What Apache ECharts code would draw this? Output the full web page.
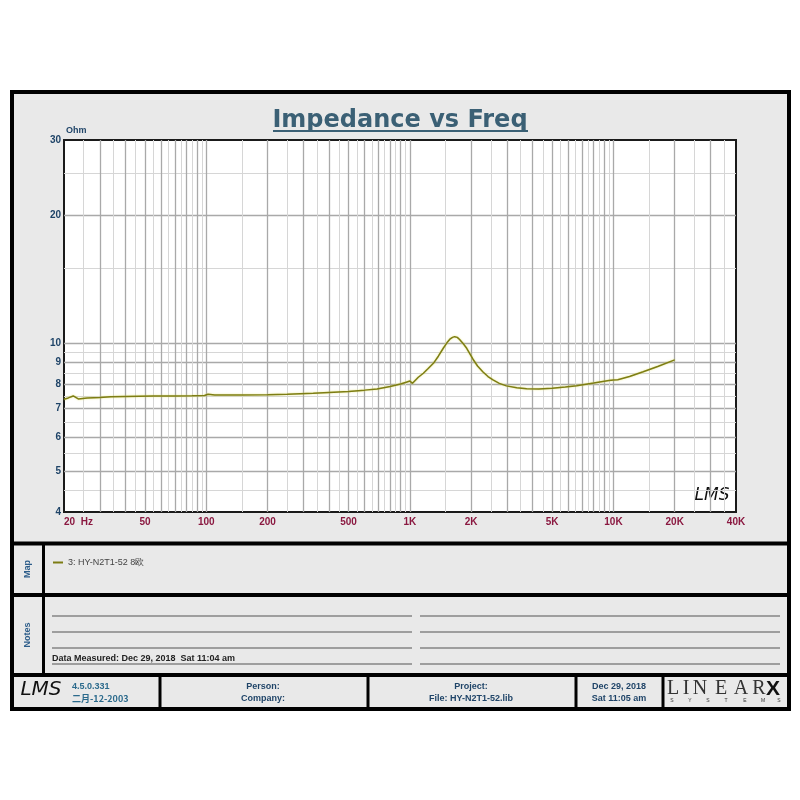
<!DOCTYPE html>
<html>
<head>
<meta charset="utf-8">
<title>Impedance vs Freq</title>
<script src="https://cdn.jsdelivr.net/npm/echarts@6/dist/echarts.min.js"></script>
<style>
  html, body { margin: 0; padding: 0; background: #fff; }
  #main { width: 800px; height: 800px; }
</style>
</head>
<body>
<div id="main"></div>
<script>
// measured curve (Hz / Ohm)
const freqHz = [20, 21, 22.2, 23.5, 26, 30, 34, 40, 55, 70, 85, 98, 102, 110, 150, 200, 250, 335, 400, 500,
  600, 690, 800, 900, 960, 1000, 1030, 1100, 1165, 1230, 1305, 1380, 1459, 1520, 1572, 1620, 1660, 1710, 1755,
  1830, 1902, 2042, 2150, 2281, 2420, 2560, 2750, 2980, 3350, 3750, 4300, 5000, 5800, 6600, 8000, 9500,
  10000, 10500, 12000, 14000, 16500, 20000];
const impedanceOhm = [7.37, 7.42, 7.5, 7.38, 7.42, 7.44, 7.47, 7.48, 7.5, 7.5, 7.51, 7.52, 7.57, 7.54, 7.54, 7.55, 7.57, 7.61, 7.64, 7.68,
  7.74, 7.79, 7.89, 8.0, 8.08, 8.13, 8.03, 8.3, 8.48, 8.7, 8.95, 9.3, 9.71, 10.0, 10.2, 10.3, 10.34, 10.3, 10.18,
  9.95, 9.71, 9.15, 8.82, 8.55, 8.33, 8.18, 8.03, 7.92, 7.84, 7.8, 7.79, 7.82, 7.87, 7.93, 8.04, 8.15,
  8.18, 8.19, 8.33, 8.55, 8.8, 9.12];
const seriesName = '3: HY-N2T1-52 8欧';

// axes
const xMajorTicks = [30, 40, 50, 60, 70, 80, 90, 100, 200, 300, 400, 500, 600, 700, 800, 900,
  1000, 2000, 3000, 4000, 5000, 6000, 7000, 8000, 9000, 10000, 20000, 30000];
const xMinorTicks = [25, 35, 45, 55, 65, 75, 85, 95, 150, 250, 350, 450, 550, 650, 750, 850, 950,
  1500, 2500, 3500, 4500, 5500, 6500, 7500, 8500, 9500, 15000, 25000, 35000];
const xLabelValues = [20, 50, 100, 200, 500, 1000, 2000, 5000, 10000, 20000, 40000];
const xLabelTexts = ['20  Hz', '50', '100', '200', '500', '1K', '2K', '5K', '10K', '20K', '40K'];
const yMajorTicks = [5, 6, 7, 8, 9, 10, 20];
const yMinorTicks = [4.5, 5.5, 6.5, 7.5, 8.5, 9.5, 15, 25];
const yLabelValues = [4, 5, 6, 7, 8, 9, 10, 20, 30];

const chart = echarts.init(document.getElementById('main'), null, { renderer: 'canvas' });

const labelFont = '"Liberation Sans", Arial, sans-serif';
const blue = '#1f4468';

function xAxisDef(ticks, color, width, withLabels) {
  return {
    type: 'log', logBase: 10, min: 20, max: 40000,
    position: 'bottom',
    axisLine: { show: false },
    axisTick: { show: false, customValues: ticks },
    splitLine: { show: true, lineStyle: { color: color, width: width } },
    axisLabel: withLabels ? {
      customValues: xLabelValues,
      alignMinLabel: 'left',
      margin: 5,
      color: '#8a1840', fontWeight: 'bold', fontSize: 10, fontFamily: labelFont,
      formatter: function (v) {
        const i = xLabelValues.findIndex(function (x) { return Math.abs(x - v) < 1e-6 * x; });
        return i >= 0 ? xLabelTexts[i] : '';
      }
    } : { show: false }
  };
}
function yAxisDef(ticks, color, width, withLabels) {
  return {
    type: 'log', logBase: 10, min: 4, max: 30,
    position: 'left',
    axisLine: { show: false },
    axisTick: { show: false, customValues: ticks },
    splitLine: { show: true, lineStyle: { color: color, width: width } },
    name: withLabels ? 'Ohm' : '',
    nameLocation: 'end',
    nameGap: 3,
    nameTextStyle: { align: 'left', color: blue, fontWeight: 'bold', fontSize: 9, fontFamily: labelFont, padding: [0, 0, 0, 2] },
    axisLabel: withLabels ? {
      customValues: yLabelValues,
      margin: 3,
      color: blue, fontWeight: 'bold', fontSize: 10, fontFamily: labelFont
    } : { show: false }
  };
}

function txt(text, x, y, font, fill, align, extra) {
  return Object.assign({
    type: 'text', silent: true,
    style: { text: text, x: x, y: y, font: font, fill: fill, textAlign: align || 'left', textVerticalAlign: 'middle' }
  }, extra || {});
}
function hline(x1, x2, y, w, c) {
  return { type: 'line', silent: true, shape: { x1: x1, y1: y, x2: x2, y2: y }, style: { stroke: c || '#000', lineWidth: w } };
}
function vline(x, y1, y2, w, c) {
  return { type: 'line', silent: true, shape: { x1: x, y1: y1, x2: x, y2: y2 }, style: { stroke: c || '#000', lineWidth: w } };
}

const ftFont = 'bold 9px ' + labelFont;
const logoFont = 'italic 17px "DejaVu Sans", sans-serif';
const graphics = [
  { type: 'rect', silent: true, z: -10, shape: { x: 12, y: 92, width: 777, height: 617 },
    style: { fill: '#e9e9e9', stroke: '#000', lineWidth: 4 } },
  hline(12, 789, 543.5, 4), hline(12, 789, 595, 4), hline(12, 789, 675, 4),
  vline(43.5, 543, 675, 3),
  vline(160, 675, 709, 3), vline(368, 675, 709, 3), vline(576, 675, 709, 3), vline(663, 675, 709, 3),
  // title underline
  hline(273, 528, 131, 2, '#3b6075'),
  // side captions
  txt('Map', 0, 0, 'bold 9px ' + labelFont, '#2d5d8a', 'center', { x: 28, y: 569, rotation: Math.PI / 2 }),
  txt('Notes', 0, 0, 'bold 9px ' + labelFont, '#2d5d8a', 'center', { x: 28, y: 635, rotation: Math.PI / 2 }),
  // notes rows
  hline(52, 412, 616, 1.2, '#555'), hline(52, 412, 632, 1.2, '#555'), hline(52, 412, 648, 1.2, '#555'),
  hline(52, 412, 664, 1.2, '#555'),
  hline(420, 780, 616, 1.2, '#555'), hline(420, 780, 632, 1.2, '#555'), hline(420, 780, 648, 1.2, '#555'),
  hline(420, 780, 664, 1.2, '#555'),
  txt('Data Measured: Dec 29, 2018  Sat 11:04 am', 52, 659, ftFont, '#222', 'left'),
  // plot signature
  txt('LMS', 712, 496, logoFont, '#111', 'center'),
  // footer
  txt('LMS', 41, 690, 'italic 20px "DejaVu Sans", sans-serif', '#111', 'center'),
  txt('4.5.0.331', 72, 687, ftFont, '#2b6a8c', 'left'),
  txt('二月-12-2003', 72, 699, 'bold 9px "Noto Sans CJK SC", ' + labelFont, '#2b6a8c', 'left'),
  txt('Person:', 263, 687, ftFont, blue, 'center'),
  txt('Company:', 263, 699, ftFont, blue, 'center'),
  txt('Project:', 471, 687, ftFont, blue, 'center'),
  txt('File: HY-N2T1-52.lib', 471, 699, ftFont, blue, 'center'),
  txt('Dec 29, 2018', 619, 687, ftFont, blue, 'center'),
  txt('Sat 11:05 am', 619, 699, ftFont, blue, 'center')
];
// LINEARX mark
const brandLetters = ['L', 'I', 'N', 'E', 'A', 'R'];
const brandX = [673, 686, 700, 721, 741, 759];
brandLetters.forEach(function (l, i) {
  graphics.push(txt(l, brandX[i], 689, '20px "Liberation Serif", serif', '#333', 'center'));
});
graphics.push(txt('X', 773, 689, 'bold 21px "Liberation Sans", sans-serif', '#111', 'center'));
const subLetters = ['S', 'Y', 'S', 'T', 'E', 'M', 'S'];
const subX = [672, 690, 708, 726, 745, 763, 779];
subLetters.forEach(function (l, i) {
  graphics.push(txt(l, subX[i], 701, '5px "Liberation Sans", sans-serif', '#333', 'center'));
});

const option = {
  backgroundColor: '#ffffff',
  animation: false,
  title: {
    text: 'Impedance vs Freq',
    left: 'center', top: 104,
    textStyle: { fontSize: 24, fontWeight: 'bold', color: '#3b6075', fontFamily: '"DejaVu Sans", sans-serif' }
  },
  legend: {
    left: 48, top: 553,
    itemWidth: 10, itemHeight: 2, itemGap: 4,
    icon: 'rect',
    textStyle: { fontSize: 9, color: '#444', fontFamily: labelFont },
    data: [seriesName]
  },
  grid: {
    left: 64, top: 140, right: 64, bottom: 288,
    show: true, backgroundColor: '#ffffff', borderColor: '#1a1a1a', borderWidth: 2
  },
  xAxis: [xAxisDef(xMinorTicks, '#d6d6d6', 1, false), xAxisDef(xMajorTicks, '#a9a9a9', 1.3, true)],
  yAxis: [yAxisDef(yMinorTicks, '#d6d6d6', 1, false), yAxisDef(yMajorTicks, '#a9a9a9', 1.3, true)],
  series: [
    {
      name: seriesName,
      type: 'line',
      xAxisIndex: 1, yAxisIndex: 1,
      showSymbol: false,
      z: 5,
      color: '#7d7d14',
      lineStyle: { color: '#7d7d14', width: 1.5, shadowColor: 'rgba(220,220,80,0.7)', shadowBlur: 2 },
      data: freqHz.map(function (f, i) { return [f, impedanceOhm[i]]; })
    }
  ],
  graphic: graphics
};

chart.setOption(option);
window.addEventListener('resize', () => { chart.resize(); });
</script>
</body>
</html>
